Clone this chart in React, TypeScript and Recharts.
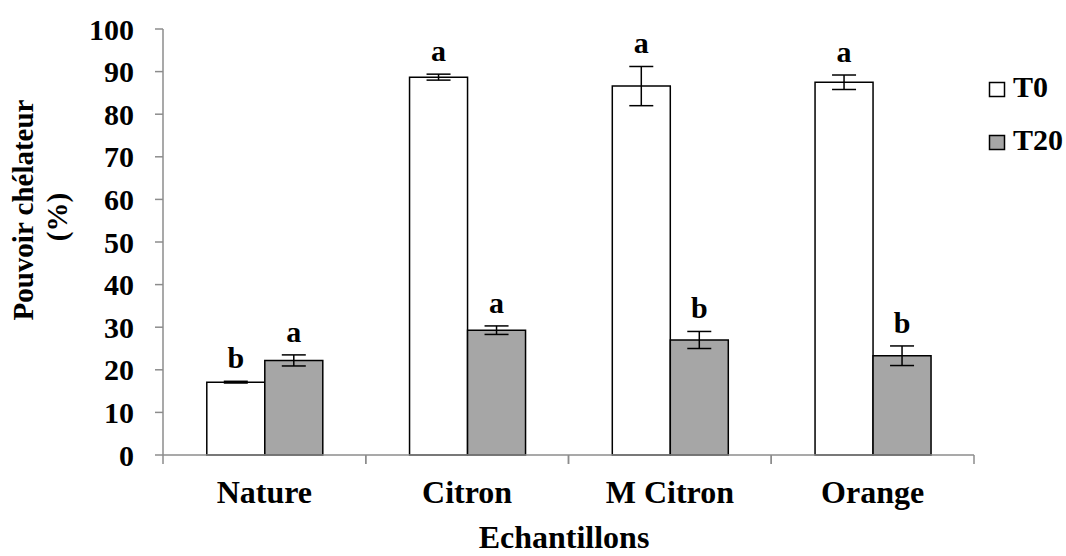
import { BarChart, Bar, XAxis, YAxis, ErrorBar, LabelList, Label, Legend } from 'recharts';

const categories = ['Nature', 'Citron', 'M Citron', 'Orange'];
const t0Values = [17.1, 88.7, 86.6, 87.5];
const t0Errors = [0.2, 0.7, 4.6, 1.7];
const t0Letters = ['b', 'a', 'a', 'a'];
const t20Values = [22.2, 29.3, 27.0, 23.3];
const t20Errors = [1.3, 1.0, 2.0, 2.3];
const t20Letters = ['a', 'a', 'b', 'b'];
const yTicks = [0, 10, 20, 30, 40, 50, 60, 70, 80, 90, 100];

const data = categories.map((name, i) => ({
  name,
  t0: t0Values[i],
  t0Err: t0Errors[i],
  t20: t20Values[i],
  t20Err: t20Errors[i],
}));

const FONT = "'Liberation Serif', 'Times New Roman', serif";
const AXIS = '#8c8c8c';
const GREY = '#a6a6a6';

const CategoryTick = (props: any) => {
  const { x, y, payload, width } = props;
  const half = payload.offset || width / categories.length / 2;
  return (
    <g>
      <line x1={x - half} x2={x - half} y1={y} y2={y + 9} stroke={AXIS} strokeWidth={1.5} />
      <line x1={x + half} x2={x + half} y1={y} y2={y + 9} stroke={AXIS} strokeWidth={1.5} />
      <text x={x} y={y + 48} textAnchor="middle" fontFamily={FONT} fontWeight="bold" fontSize={32} fill="#000">
        {payload.value}
      </text>
    </g>
  );
};

// letter sits just above the error bar cap
const letterLabel = (letters: string[], errors: number[]) => (props: any) => {
  const { x, y, width, height, value, index } = props;
  const errPx = value ? (height / value) * errors[index] : 0;
  return (
    <text x={x + width / 2} y={y - errPx - 13} textAnchor="middle" fontFamily={FONT} fontWeight="bold" fontSize={30} fill="#000">
      {letters[index]}
    </text>
  );
};

const LegendBox = () => (
  <svg width={80} height={90} style={{ overflow: 'visible' }}>
    <rect x={3.5} y={8.5} width={15} height={14} fill="#fff" stroke="#000" strokeWidth={1.5} />
    <text x={27} y={23} fontFamily={FONT} fontWeight="bold" fontSize={30} fill="#000">T0</text>
    <rect x={3.5} y={61.5} width={15} height={14} fill={GREY} stroke="#000" strokeWidth={1.5} />
    <text x={27} y={76} fontFamily={FONT} fontWeight="bold" fontSize={30} fill="#000">T20</text>
  </svg>
);

const YTitle = () => (
  <g fontFamily={FONT} fontWeight="bold" fontSize={29} fill="#000">
    <text transform="translate(33, 210) rotate(-90)" textAnchor="middle">Pouvoir chélateur</text>
    <text transform="translate(67, 217) rotate(-90)" textAnchor="middle">(%)</text>
  </g>
);

const XTitle = () => (
  <text x={564} y={548} textAnchor="middle" fontFamily={FONT} fontWeight="bold" fontSize={32} fill="#000">
    Echantillons
  </text>
);

export default function App() {
  return (
    <div style={{ position: 'absolute', left: 0, top: 0 }}>
      <BarChart
        width={1066}
        height={556}
        data={data}
        margin={{ top: 29, right: 92, bottom: 0, left: 0 }}
        barCategoryGap="21.6%"
        barGap={0}
      >
        <XAxis
          dataKey="name"
          interval={0}
          height={101}
          tickLine={false}
          tickSize={0}
          tickMargin={0}
          axisLine={{ stroke: AXIS, strokeWidth: 1.5 }}
          tick={<CategoryTick />}
        >
          <Label content={<XTitle />} />
        </XAxis>
        <YAxis
          width={163}
          domain={[0, 100]}
          ticks={yTicks}
          interval={0}
          tickSize={8}
          tickMargin={21}
          axisLine={{ stroke: AXIS, strokeWidth: 1.5 }}
          tickLine={{ stroke: AXIS, strokeWidth: 1.5 }}
          tick={{ fontFamily: FONT, fontWeight: 'bold', fontSize: 30, fill: '#000' }}
        >
          <Label content={<YTitle />} />
        </YAxis>
        <Legend
          verticalAlign="top"
          layout="horizontal"
          content={<LegendBox />}
          wrapperStyle={{ position: 'absolute', left: 986, top: 74, width: 80, height: 0, overflow: 'visible' }}
        />
        <Bar dataKey="t0" name="T0" fill="#ffffff" stroke="#000" strokeWidth={1.5} isAnimationActive={false}>
          <ErrorBar dataKey="t0Err" width={12} stroke="#000" strokeWidth={1.5} />
          <LabelList dataKey="t0" content={letterLabel(t0Letters, t0Errors)} />
        </Bar>
        <Bar dataKey="t20" name="T20" fill={GREY} stroke="#000" strokeWidth={1.5} isAnimationActive={false}>
          <ErrorBar dataKey="t20Err" width={12} stroke="#000" strokeWidth={1.5} />
          <LabelList dataKey="t20" content={letterLabel(t20Letters, t20Errors)} />
        </Bar>
      </BarChart>
    </div>
  );
}
